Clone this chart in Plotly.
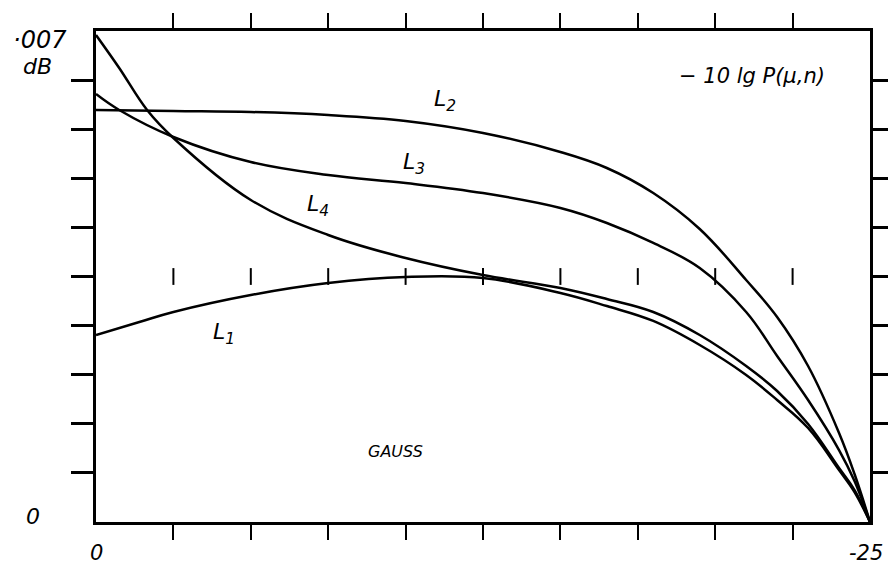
import plotly.graph_objects as go

# ---- data ----
x_L1 = [0, -1.4, -2.5, -5, -7.5, -10, -12.5, -15, -16.5, -18, -19.5, -21, -22, -23, -24, -24.5, -25]
y_L1 = [0.002666, 0.002851, 0.002994, 0.003236, 0.003407, 0.003493, 0.003479, 0.003265,
        0.003079, 0.002866, 0.002523, 0.002096, 0.001739, 0.001340, 0.000741, 0.000428, 0.0]

x_L2 = [0, -2.5, -5, -7.5, -10, -12.5, -15, -16.5, -18, -19.5, -21, -22, -23, -24, -24.5, -25]
y_L2 = [0.005874, 0.005859, 0.005845, 0.005802, 0.005717, 0.005546, 0.005275, 0.005047,
        0.004690, 0.004177, 0.003450, 0.002923, 0.002224, 0.001269, 0.000684, 0.0]

x_L3 = [0, -0.75, -2.5, -5, -7.5, -10, -12.5, -15, -16.5, -18, -19.5, -21, -22, -23, -24, -24.5, -25]
y_L3 = [0.006102, 0.005874, 0.005489, 0.005132, 0.004947, 0.004833, 0.004690, 0.004477,
        0.004263, 0.003978, 0.003621, 0.002994, 0.002367, 0.001739, 0.001026, 0.000585, 0.0]

x_L4 = [0, -0.75, -1.65, -2.5, -5, -7.5, -10, -12.5, -15, -16.5, -18, -19.5, -21, -22, -23, -24, -24.5, -25]
y_L4 = [0.006943, 0.006473, 0.005874, 0.005475, 0.004591, 0.004092, 0.003764, 0.003521,
        0.003336, 0.003179, 0.002994, 0.002666, 0.002224, 0.001868, 0.001397, 0.000770, 0.000456, 0.0]

x_ticks = [-2.5, -5, -7.5, -10, -12.5, -15, -17.5, -20, -22.5]
y_ticks = [0.0007, 0.0014, 0.0021, 0.0028, 0.0035, 0.0042, 0.0049, 0.0056, 0.0063]
mid_level = 0.0035
x_range = [0, -25]
y_range = [0, 0.007]
x_tick_labels = ["0", "-25"]
y_tick_labels = ["0", "·007", "dB"]

series = [("L1", x_L1, y_L1), ("L2", x_L2, y_L2), ("L3", x_L3, y_L3), ("L4", x_L4, y_L4)]

fig = go.Figure()
for name, xs, ys in series:
    fig.add_trace(go.Scatter(x=xs, y=ys, mode="lines", name=name,
                             line=dict(color="black", width=2.5, shape="spline", smoothing=1.1)))

# small tick marks along the middle level
fig.add_trace(go.Scatter(x=x_ticks, y=[mid_level] * len(x_ticks), mode="markers",
                         marker=dict(symbol="line-ns-open", size=12, color="black",
                                     line=dict(color="black", width=2)),
                         hoverinfo="skip"))

W, H = 896, 567
# plot area in screen pixels of the reference
PL, PR, PT, PB = 96, 870, 31, 522
OFF = 8  # page body margin

def paper(xp, yp):
    return (xp - PL) / (PR - PL), 1 - (yp - PT) / (PB - PT)

font_hand = "DejaVu Sans"
ann = []
for txt, (xp, yp), sz in [(y_tick_labels[1], (40, 40), 24), (y_tick_labels[2], (37, 66), 22),
                          (y_tick_labels[0], (33, 516), 22), (x_tick_labels[0], (96, 553), 21),
                          (x_tick_labels[1], (866, 553), 21),
                          ("− 10 lg P(μ,n)", (752, 76), 21),
                          ("L<sub>2</sub>", (445, 100), 22), ("L<sub>3</sub>", (414, 163), 22),
                          ("L<sub>4</sub>", (318, 205), 22), ("L<sub>1</sub>", (224, 333), 22),
                          ("GAUSS", (395, 451), 16)]:
    fx, fy = paper(xp, yp)
    ann.append(dict(text=txt, x=fx, y=fy, xref="paper", yref="paper", showarrow=False,
                    xanchor="center", yanchor="middle",
                    font=dict(family=font_hand, size=sz, color="black", style="italic")))

fig.update_layout(
    width=W, height=H,
    margin=dict(l=PL - OFF, r=W - (PR - OFF), t=PT - OFF, b=H - (PB - OFF), autoexpand=False),
    paper_bgcolor="white", plot_bgcolor="white",
    showlegend=False,
    annotations=ann,
    xaxis=dict(range=x_range, tickvals=x_ticks, showticklabels=False, ticks="outside",
               ticklen=15, tickwidth=2, tickcolor="black", showline=True, linecolor="black",
               linewidth=3, mirror="ticks", showgrid=False, zeroline=False),
    yaxis=dict(range=y_range, tickvals=y_ticks, showticklabels=False, ticks="outside",
               ticklen=22, tickwidth=2.5, tickcolor="black", showline=True, linecolor="black",
               linewidth=3, mirror="ticks", showgrid=False, zeroline=False),
)

fig.write_html("out.html")
